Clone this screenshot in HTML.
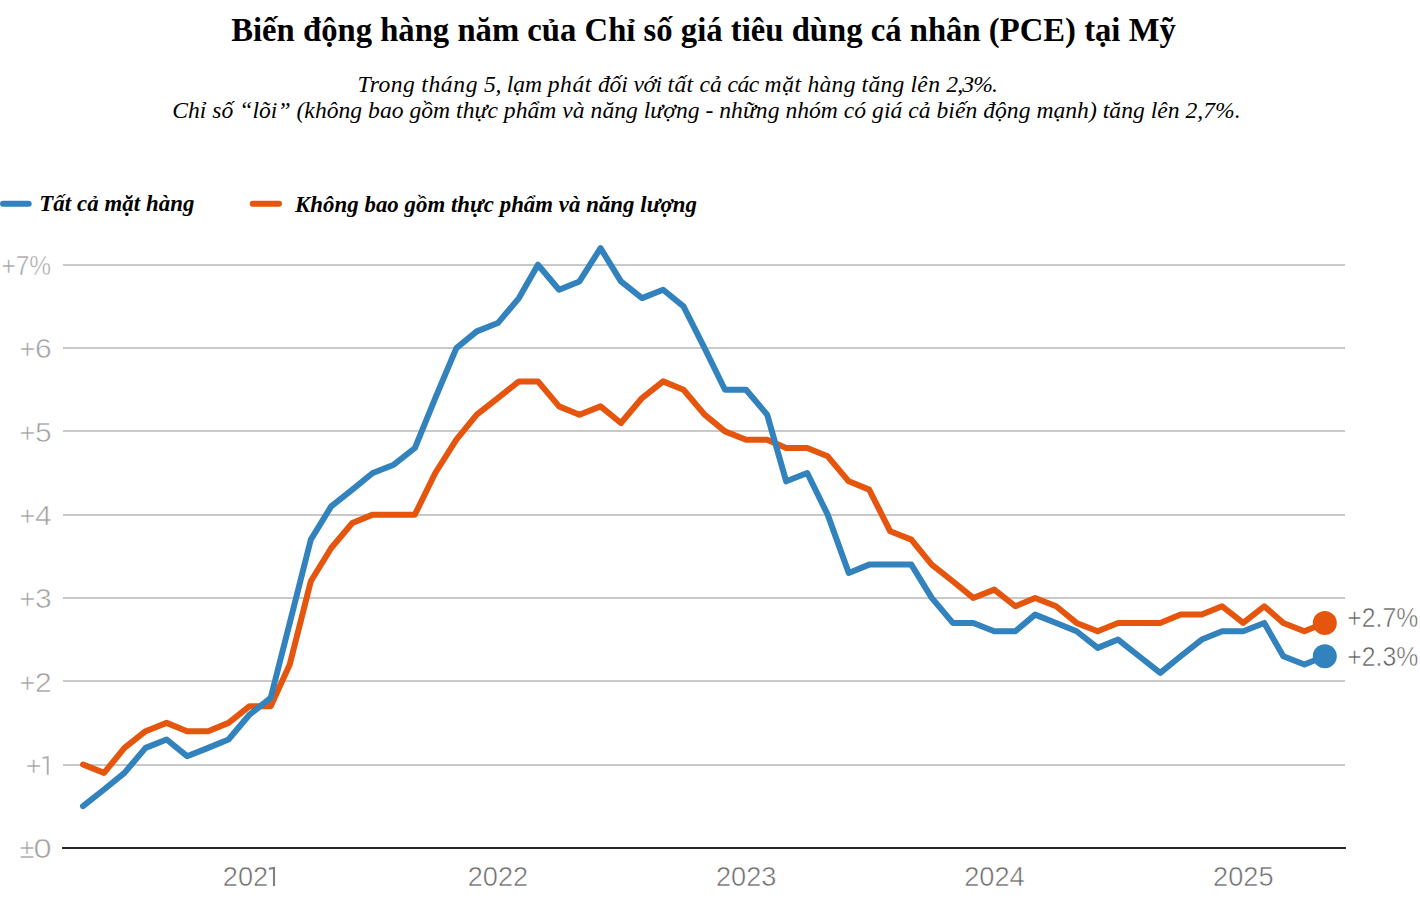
<!DOCTYPE html>
<html lang="vi"><head><meta charset="utf-8"><title>PCE</title>
<style>
html,body{margin:0;padding:0;background:#fff;}
body{width:1420px;height:920px;overflow:hidden;font-family:"Liberation Sans",sans-serif;}
svg{display:block;position:absolute;left:0;top:0;}
.t{font-family:"Liberation Serif",serif;fill:#000;}
.s{font-family:"Liberation Sans",sans-serif;stroke:#fff;stroke-width:0.55px;}
</style></head><body>
<svg width="1420" height="920" viewBox="0 0 1420 920">
<rect width="1420" height="920" fill="#ffffff"/>
<text id="title" class="t" x="231.2" y="41" textLength="944.6" font-size="32.65" font-weight="bold">Biến động hàng năm của Chỉ số giá tiêu dùng cá nhân (PCE) tại Mỹ</text>
<text id="sub1" class="t" y="92" font-size="23.6" font-style="italic" xml:space="preserve"><tspan x="357.45" textLength="63.75">Trong </tspan><tspan x="421.20" textLength="62.80">tháng </tspan><tspan x="484.00" textLength="22.80">5, </tspan><tspan x="506.80" textLength="40.95">lạm </tspan><tspan x="547.75" textLength="50.15">phát </tspan><tspan x="597.90" textLength="35.60">đối </tspan><tspan x="633.50" textLength="34.10">với </tspan><tspan x="667.60" textLength="31.80">tất </tspan><tspan x="699.40" textLength="28.20">cả </tspan><tspan x="727.60" textLength="37.00">các </tspan><tspan x="764.60" textLength="42.90">mặt </tspan><tspan x="807.50" textLength="54.10">hàng </tspan><tspan x="861.60" textLength="48.80">tăng </tspan><tspan x="910.40" textLength="35.80">lên </tspan><tspan x="946.20" textLength="46.6">2,3%</tspan><tspan x="991.90">.</tspan></text>
<text id="sub2" class="t" x="172.2" y="117.8" textLength="1068.5" font-size="23.6" font-style="italic">Chỉ số “lõi” (không bao gồm thực phẩm và năng lượng - những nhóm có giá cả biến động mạnh) tăng lên 2,7%.</text>
<line x1="3" y1="203.8" x2="28.7" y2="203.8" stroke="#3182bd" stroke-width="6" stroke-linecap="round"/>
<text id="leg1" class="t" x="39.2" y="211" textLength="155.3" font-size="22.8" font-weight="bold" font-style="italic">Tất cả mặt hàng</text>
<line x1="252.7" y1="203.8" x2="279" y2="203.8" stroke="#e6550d" stroke-width="6" stroke-linecap="round"/>
<text id="leg2" class="t" x="295.1" y="211.7" textLength="401.7" font-size="22.8" font-weight="bold" font-style="italic">Không bao gồm thực phẩm và năng lượng</text>
<rect x="63" y="764" width="1282" height="2" fill="#c9c9c9" shape-rendering="crispEdges"/>
<rect x="63" y="680" width="1282" height="2" fill="#c9c9c9" shape-rendering="crispEdges"/>
<rect x="63" y="597" width="1282" height="2" fill="#c9c9c9" shape-rendering="crispEdges"/>
<rect x="63" y="514" width="1282" height="2" fill="#c9c9c9" shape-rendering="crispEdges"/>
<rect x="63" y="430" width="1282" height="2" fill="#c9c9c9" shape-rendering="crispEdges"/>
<rect x="63" y="347" width="1282" height="2" fill="#c9c9c9" shape-rendering="crispEdges"/>
<rect x="63" y="264" width="1282" height="2" fill="#c9c9c9" shape-rendering="crispEdges"/>
<rect x="62" y="847" width="1284" height="2" fill="#282828" shape-rendering="crispEdges"/>
<text class="s" x="34.30" y="858.20" font-size="27.2" text-anchor="end" fill="#a0a0a0">±</text>
<text class="s" x="51.70" y="858.20" font-size="27.2" text-anchor="end" fill="#a0a0a0" textLength="18.1" lengthAdjust="spacingAndGlyphs">0</text>
<text class="s" x="41.70" y="774.91" font-size="27.2" text-anchor="end" fill="#a0a0a0">+</text>
<path d="M42.60,757.91 L47.70,757.11 L47.70,774.71" fill="none" stroke="#adadad" stroke-width="1.9" stroke-linejoin="miter"/>
<text class="s" x="35.30" y="691.62" font-size="27.2" text-anchor="end" fill="#a0a0a0">+</text>
<text class="s" x="51.80" y="691.62" font-size="27.2" text-anchor="end" fill="#a0a0a0" textLength="16.7" lengthAdjust="spacingAndGlyphs">2</text>
<text class="s" x="35.30" y="608.33" font-size="27.2" text-anchor="end" fill="#a0a0a0">+</text>
<text class="s" x="51.80" y="608.33" font-size="27.2" text-anchor="end" fill="#a0a0a0" textLength="16.7" lengthAdjust="spacingAndGlyphs">3</text>
<text class="s" x="35.30" y="525.04" font-size="27.2" text-anchor="end" fill="#a0a0a0">+</text>
<text class="s" x="51.80" y="525.04" font-size="27.2" text-anchor="end" fill="#a0a0a0" textLength="16.7" lengthAdjust="spacingAndGlyphs">4</text>
<text class="s" x="35.30" y="441.75" font-size="27.2" text-anchor="end" fill="#a0a0a0">+</text>
<text class="s" x="51.80" y="441.75" font-size="27.2" text-anchor="end" fill="#a0a0a0" textLength="16.7" lengthAdjust="spacingAndGlyphs">5</text>
<text class="s" x="35.30" y="358.46" font-size="27.2" text-anchor="end" fill="#a0a0a0">+</text>
<text class="s" x="51.80" y="358.46" font-size="27.2" text-anchor="end" fill="#a0a0a0" textLength="16.7" lengthAdjust="spacingAndGlyphs">6</text>
<text class="s" x="51.00" y="275.17" font-size="27.2" text-anchor="end" fill="#a0a0a0" textLength="49.6" lengthAdjust="spacingAndGlyphs">+7%</text>
<text class="s" x="268.20" y="886.10" font-size="27.2" text-anchor="end" fill="#6c6c6c">202</text>
<path d="M268.90,868.80 L274.00,868.00 L274.00,885.90" fill="none" stroke="#808080" stroke-width="2.1" stroke-linejoin="miter"/>
<text class="s" x="497.94" y="886.10" font-size="27.2" text-anchor="middle" fill="#6c6c6c">2022</text>
<text class="s" x="746.16" y="886.10" font-size="27.2" text-anchor="middle" fill="#6c6c6c">2023</text>
<text class="s" x="994.39" y="886.10" font-size="27.2" text-anchor="middle" fill="#6c6c6c">2024</text>
<text class="s" x="1243.29" y="886.10" font-size="27.2" text-anchor="middle" fill="#6c6c6c">2025</text>
<path d="M83.00,764.51 L104.08,772.84 L124.48,747.85 L145.57,731.19 L166.65,722.87 L187.05,731.19 L208.13,731.19 L228.53,722.87 L249.62,706.21 L270.70,706.21 L289.74,664.56 L310.82,581.27 L331.22,547.96 L352.31,522.97 L372.71,514.64 L393.79,514.64 L414.87,514.64 L435.27,472.99 L456.36,439.68 L476.76,414.69 L497.84,398.03 L518.92,381.38 L537.96,381.38 L559.05,406.36 L579.45,414.69 L600.53,406.36 L620.93,423.02 L642.01,398.03 L663.10,381.38 L683.50,389.70 L704.58,414.69 L724.98,431.35 L746.06,439.68 L767.15,439.68 L786.19,448.01 L807.27,448.01 L827.67,456.34 L848.75,481.32 L869.16,489.65 L890.24,531.30 L911.32,539.63 L931.72,564.61 L952.80,581.27 L973.21,597.93 L994.29,589.60 L1015.37,606.26 L1035.09,597.93 L1056.17,606.26 L1076.58,622.92 L1097.66,631.25 L1118.06,622.92 L1139.14,622.92 L1160.22,622.92 L1180.63,614.59 L1201.71,614.59 L1222.11,606.26 L1243.19,622.92 L1264.27,606.26 L1283.32,622.92 L1304.40,631.25 L1324.80,622.92" fill="none" stroke="#e6550d" stroke-width="6" stroke-linecap="round" stroke-linejoin="round"/>
<path d="M83.00,806.15 L104.08,789.50 L124.48,772.84 L145.57,747.85 L166.65,739.52 L187.05,756.18 L208.13,747.85 L228.53,739.52 L249.62,714.54 L270.70,697.88 L289.74,622.92 L310.82,539.63 L331.22,506.31 L352.31,489.65 L372.71,472.99 L393.79,464.67 L414.87,448.01 L435.27,398.03 L456.36,348.06 L476.76,331.40 L497.84,323.07 L518.92,298.09 L537.96,264.77 L559.05,289.76 L579.45,281.43 L600.53,248.11 L620.93,281.43 L642.01,298.09 L663.10,289.76 L683.50,306.41 L704.58,348.06 L724.98,389.70 L746.06,389.70 L767.15,414.69 L786.19,481.32 L807.27,472.99 L827.67,514.64 L848.75,572.94 L869.16,564.61 L890.24,564.61 L911.32,564.61 L931.72,597.93 L952.80,622.92 L973.21,622.92 L994.29,631.25 L1015.37,631.25 L1035.09,614.59 L1056.17,622.92 L1076.58,631.25 L1097.66,647.90 L1118.06,639.57 L1139.14,656.23 L1160.22,672.89 L1180.63,656.23 L1201.71,639.57 L1222.11,631.25 L1243.19,631.25 L1264.27,622.92 L1283.32,656.23 L1304.40,664.56 L1324.80,656.23" fill="none" stroke="#3182bd" stroke-width="6" stroke-linecap="round" stroke-linejoin="round"/>
<circle cx="1324.80" cy="622.92" r="12" fill="#e6550d"/>
<circle cx="1324.80" cy="656.23" r="12" fill="#3182bd"/>
<text id="e1" class="s" x="1347.3" y="627.2" font-size="27.2" fill="#606060" textLength="71" lengthAdjust="spacingAndGlyphs">+2.7%</text>
<text id="e2" class="s" x="1347.3" y="666.3" font-size="27.2" fill="#606060" textLength="71" lengthAdjust="spacingAndGlyphs">+2.3%</text>
</svg></body></html>
